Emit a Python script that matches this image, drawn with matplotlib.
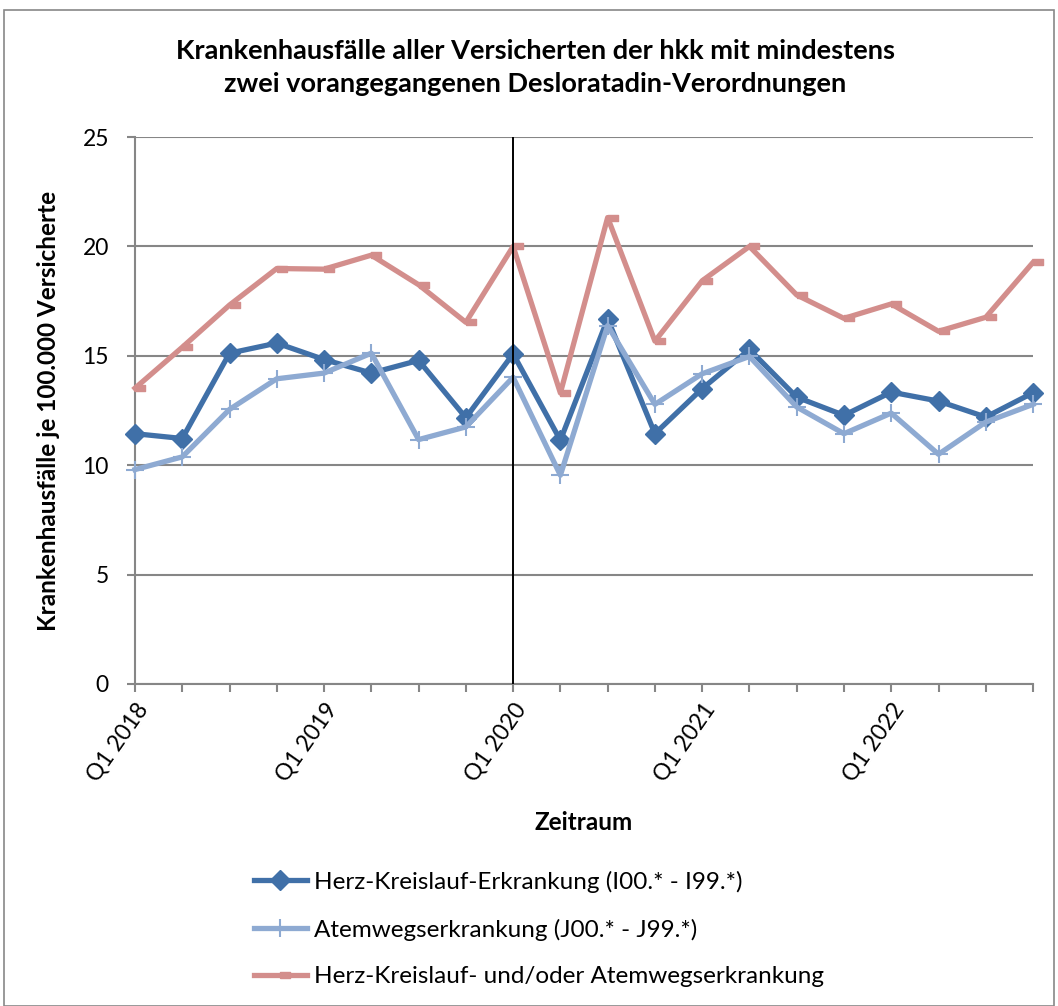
import matplotlib.pyplot as plt
import numpy as np
from matplotlib.path import Path
from matplotlib.patches import Rectangle

quarters = [f"Q{q} {y}" for y in range(2018, 2023) for q in range(1, 5)]
tick_labels = [lab if lab.startswith("Q1") else "" for lab in quarters]

herz = [11.44, 11.22, 15.12, 15.58, 14.83, 14.21, 14.79, 12.17, 15.09, 11.14,
        16.69, 11.44, 13.50, 15.29, 13.11, 12.28, 13.34, 12.93, 12.20, 13.31]
atemweg = [9.80, 10.38, 12.55, 13.95, 14.21, 15.12, 11.17, 11.75, 14.02, 9.54,
           16.38, 12.78, 14.18, 14.97, 12.66, 11.44, 12.38, 10.50, 11.97, 12.78]
kombiniert = [13.52, 15.39, 17.32, 18.99, 18.96, 19.60, 18.25, 16.53, 20.00, 13.30,
              21.32, 15.67, 18.43, 20.00, 17.78, 16.71, 17.37, 16.12, 16.76, 19.27]

series_names = [
    "Herz-Kreislauf-Erkrankung (I00.* - I99.*)",
    "Atemwegserkrankung (J00.* - J99.*)",
    "Herz-Kreislauf- und/oder Atemwegserkrankung",
]

plt.rcParams["font.family"] = ["Lato", "DejaVu Sans"]

fig = plt.figure(figsize=(10.58, 10.06), dpi=100)
ax = fig.add_axes([0.1276, 0.3201, 0.8488, 0.5437])

# outer chart border
fig.patches.append(Rectangle((0.004, 0.0), 0.992, 0.99, transform=fig.transFigure,
                             fill=False, edgecolor="#888888", linewidth=1.2))

x = np.arange(len(quarters))
dash_marker = Path([(0, -0.3), (1, -0.3), (1, 0.3), (0, 0.3), (0, -0.3)])

ax.plot(x, herz, color="#4070a8", linewidth=3.8, marker="D", markersize=10,
        label=series_names[0], zorder=3, clip_on=False)
ax.plot(x, atemweg, color="#8eaad2", linewidth=3.8, marker="+", markersize=13,
        markeredgewidth=1.5, label=series_names[1], zorder=4, clip_on=False)
ax.plot(x, kombiniert, color="#d38e8c", linewidth=3.8, marker=dash_marker,
        markersize=15, label=series_names[2], zorder=3, clip_on=False)

ax.axvline(8, color="black", linewidth=1.4, zorder=5)

ax.set_xlim(0, len(quarters) - 1)
ax.set_ylim(0, 25)
ax.set_yticks([0, 5, 10, 15, 20, 25])
ax.set_xticks(x)
ax.set_xticklabels(tick_labels, rotation=55, ha="right", va="top",
                   rotation_mode="anchor", fontsize=16.5)
ax.tick_params(axis="y", labelsize=16.5, length=5.8, width=1.5, color="#868686", pad=13)
ax.tick_params(axis="x", length=5.8, width=1.5, color="#868686", pad=5)

ax.grid(axis="y", color="#868686", linewidth=1.5)
ax.set_axisbelow(True)
for side in ["top", "right"]:
    ax.spines[side].set_visible(False)
for side in ["left", "bottom"]:
    ax.spines[side].set_color("#868686")
    ax.spines[side].set_linewidth(1.5)

ax.set_ylabel("Krankenhausfälle je 100.000 Versicherte", fontsize=17.5,
              fontweight="bold", labelpad=16)
ax.set_xlabel("Zeitraum", fontsize=17.5, fontweight="bold", labelpad=19)

fig.text(0.506, 0.933, "Krankenhausfälle aller Versicherten der hkk mit mindestens\n"
         "zwei vorangegangenen Desloratadin-Verordnungen",
         ha="center", va="center", fontsize=19.5, fontweight="bold", linespacing=1.45)

fig.legend(loc="upper left", bbox_to_anchor=(0.231, 0.144), frameon=False,
           fontsize=17.5, handlelength=2.17, handletextpad=0.29, labelspacing=1.05,
           borderaxespad=0)

fig.savefig("out.png", dpi=100)
